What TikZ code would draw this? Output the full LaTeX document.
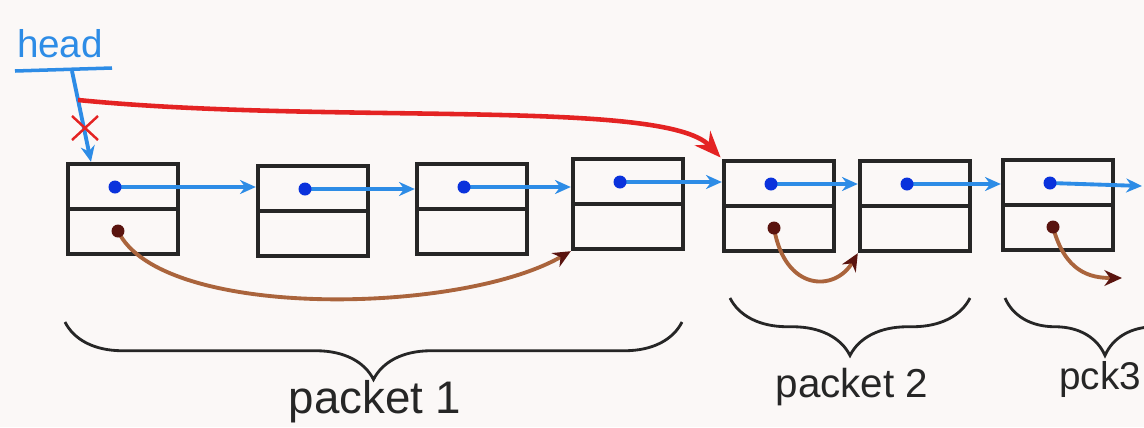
\documentclass[tikz,border=0pt]{standalone}
\usepackage{fontspec}
\setmainfont{Liberation Sans}
\usetikzlibrary{arrows, arrows.meta, calc, decorations.pathreplacing}
\definecolor{paper}{RGB}{251,248,247}
\definecolor{linkblue}{RGB}{45,140,230}
\definecolor{dotblue}{RGB}{10,50,220}
\definecolor{skipbrown}{RGB}{170,100,60}
\definecolor{dotbrown}{RGB}{90,20,15}
\definecolor{hopred}{RGB}{228,35,35}
\tikzstyle{cell} = [
    rectangle,
    minimum width=2.2cm,
    minimum height=1.8cm,
    line width=2.5pt,
    draw=black!85,
    path picture={\draw[line width=2.5pt, black!85]
        (path picture bounding box.west) -- (path picture bounding box.east);}
]
\tikzstyle{next} = [linkblue, line width=2.2pt, -{Stealth[length=9pt, width=8pt]}]
\tikzstyle{skip} = [skipbrown, line width=2.2pt, -{Stealth[length=10pt, width=9pt, color=dotbrown]}]
\tikzstyle{hop} = [hopred, line width=2.6pt, -{Stealth[length=15pt, width=12pt]}, shorten >=1pt]
\tikzstyle{brace} = [
    decorate,
    decoration={brace, mirror, amplitude=1.15cm},
    line width=1.6pt,
    black!85
]
\tikzstyle{pktlabel} = [font=\fontsize{26}{30}\selectfont, black!85]

\begin{document}
\begin{tikzpicture}[x=0.02cm, y=-0.02cm]

\fill[paper] (0,0) rectangle (1144,427);
\clip (0,0) rectangle (1144,427);

\node (n1) [cell] at (123,209) {};
\node (n2) [cell] at (313,211) {};
\node (n3) [cell] at (472,209) {};
\node (n4) [cell] at (628,204) {};
\node (n5) [cell] at (779,206) {};
\node (n6) [cell] at (915,206) {};
\node (n7) [cell] at (1058,205) {};

\foreach \i in {1,...,7} {
    \coordinate (p\i) at ($(n\i.center)+(-8,-22)$);
    \coordinate (q\i) at ($(n\i.center)+(-5,22)$);
}

\coordinate (tail) at (1142,186);
\draw [next] (p1) -- (n2.west |- p1);
\draw [next] (p2) -- (n3.west |- p2);
\draw [next] (p3) -- (n4.west |- p3);
\draw [next] (p4) -- (n5.west |- p4);
\draw [next] (p5) -- (n6.west |- p5);
\draw [next] (p6) -- (n7.west |- p6);
\draw [next] (p7) -- (tail);
\foreach \i in {1,...,7}
    \fill[dotblue] (p\i) circle (0.13cm);

\coordinate (drop) at (1122,278);
\draw [skip] (q1) .. controls (160,320) and (460,315) .. (n4.south west);
\draw [skip] (q5) .. controls (785,292) and (835,292) .. (n6.south west);
\draw [skip] (q7) .. controls (1065,272) and (1090,278) .. (drop);
\fill[dotbrown] (q1) circle (0.13cm);
\fill[dotbrown] (q5) circle (0.13cm);
\fill[dotbrown] (q7) circle (0.13cm);

\node (head) [linkblue, font=\fontsize{22}{26}\selectfont] at (60,44) {head};
\draw [linkblue, line width=2pt] (15,71) -- (112,68);
\coordinate (hook) at (72,71);
\draw [next] (hook) -- ($(n1.north west)!0.22!(n1.north east)$);
\draw [hopred, line width=1.4pt] (72,116) -- (98,140) (72,140) -- (98,116);

\coordinate (jump) at (78,100);
\draw [hop] (jump) .. controls (330,125) and (665,98) .. (n5.north west);

\draw [brace] (65,322) -- (682,322);
\draw [brace] (730,298) -- (970,298);
\draw [brace] (1005,298) -- (1205,298);

\node (pk1) [pktlabel] at (375,402) {packet 1};
\node (pk2) [pktlabel, font=\fontsize{23}{27}\selectfont] at (852,387) {packet 2};
\node (pk3) [pktlabel, font=\fontsize{22}{26}\selectfont] at (1100,379) {pck3};

\end{tikzpicture}
\end{document}
